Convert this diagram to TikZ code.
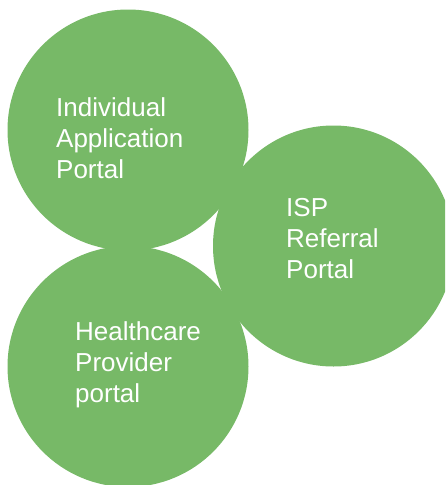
\documentclass[tikz,border=0pt]{standalone}
\usepackage{fontspec}
\setmainfont{Liberation Sans}
\definecolor{leaf}{RGB}{119,185,103}
\begin{document}
\begin{tikzpicture}[x=1pt,y=-1pt,
  bubble/.style={circle, fill=leaf, minimum size=241pt, inner sep=0pt},
  lbl/.style={text=white, align=left, anchor=north west, inner sep=0pt,
              font=\fontsize{26}{31}\selectfont}]
\useasboundingbox (0,0) rectangle (445,485);
\clip (0,0) rectangle (445,485);
\node[bubble] (iap) at (128,130) {};
\node[bubble] (isp) at (333.5,246) {};
\node[bubble] (hcp) at (128,366.5) {};
\node[lbl] (t1) at (56,97) {Individual\\Application\\Portal};
\node[lbl] (t2) at (286,198) {ISP\\Referral\\Portal};
\node[lbl] (t3) at (75,321) {Healthcare\\Provider\\portal};
\end{tikzpicture}
\end{document}
